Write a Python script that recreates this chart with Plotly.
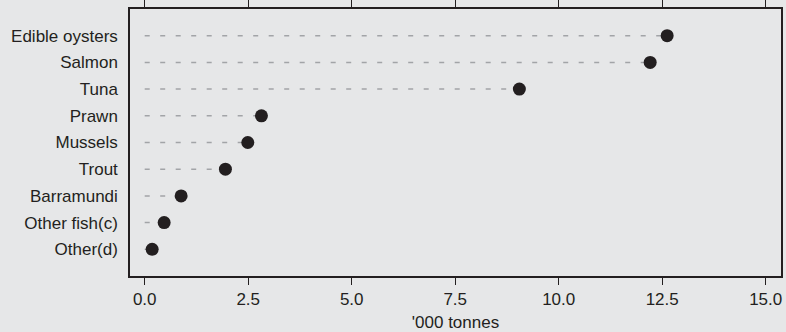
import plotly.graph_objects as go

categories = ["Other(d)", "Other fish(c)", "Barramundi", "Trout", "Mussels",
              "Prawn", "Tuna", "Salmon", "Edible oysters"]
values = [0.18, 0.47, 0.88, 1.95, 2.49, 2.82, 9.05, 12.21, 12.62]
x_ticks = [0.0, 2.5, 5.0, 7.5, 10.0, 12.5, 15.0]
x_tick_labels = ["0.0", "2.5", "5.0", "7.5", "10.0", "12.5", "15.0"]
x_title = "'000 tonnes"

BG = "#e6e7e8"
INK = "#231f20"
FONT = "Liberation Sans"

lx, ly = [], []
for c, v in zip(categories, values):
    lx += [0, v, None]
    ly += [c, c, None]

fig = go.Figure()
fig.add_trace(go.Scatter(x=lx, y=ly, mode="lines",
                         line=dict(color="#a2a4a7", width=1.5, dash="5px,10.5px"),
                         hoverinfo="skip", showlegend=False))
fig.add_trace(go.Scatter(x=values, y=categories, mode="markers",
                         marker=dict(color=INK, size=13),
                         showlegend=False))

fig.update_layout(
    width=786, height=332,
    margin=dict(l=130, r=5, t=9, b=56),
    paper_bgcolor=BG, plot_bgcolor=BG,
    font=dict(family=FONT, size=17, color=INK),
    xaxis=dict(range=[-0.355, 15.37], tickvals=x_ticks, ticktext=x_tick_labels,
               showgrid=False, zeroline=False, showline=True, linecolor=INK,
               linewidth=1.5, mirror="ticks", ticks="outside", ticklen=7,
               tickwidth=1.3, tickcolor=INK, automargin=False,
               title=dict(text=x_title, standoff=10, font=dict(size=17))),
    yaxis=dict(categoryorder="array", categoryarray=categories,
               range=[-1, 9], showgrid=False, zeroline=False, showline=True,
               linecolor=INK, linewidth=1.5, mirror=True, ticks="",
               ticklabelstandoff=7, automargin=False),
)

fig.write_html("out.html",
               config={"displayModeBar": False},
               post_script="document.body.style.margin='0';document.body.style.background='%s';" % BG)
